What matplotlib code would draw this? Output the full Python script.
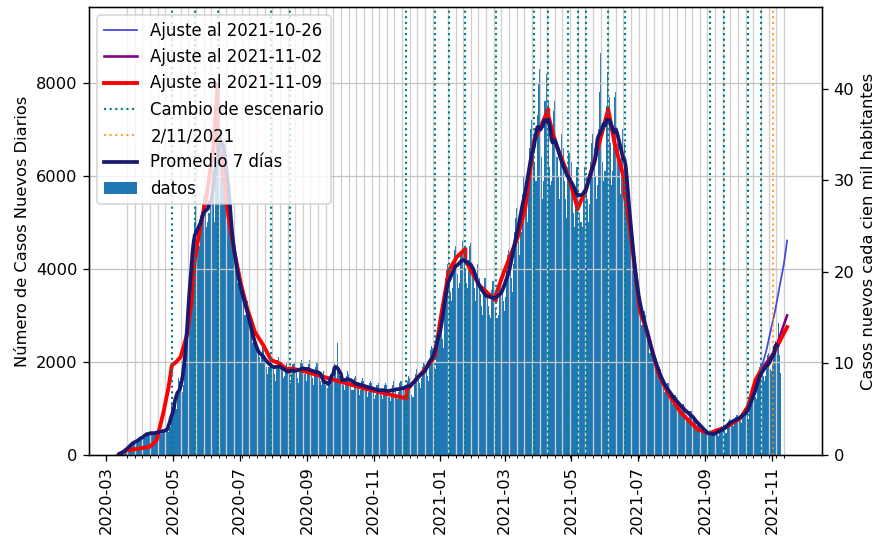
import numpy as np
import pandas as pd
import matplotlib
matplotlib.use("Agg")
from matplotlib import pyplot as plt

# casos nuevos diarios desde 2020-03-10 (una fila por semana, martes a lunes)
casos = [
    5, 10, 15, 25, 30, 45, 75,
    60, 90, 110, 130, 160, 190, 220,
    220, 250, 270, 300, 300, 290, 310,
    300, 330, 380, 420, 460, 380, 370,
    400, 480, 500, 560, 470, 430, 420,
    430, 480, 500, 520, 540, 480, 450,
    470, 520, 540, 560, 580, 540, 500,
    560, 600, 1140, 990, 1230, 1050, 980,
    1300, 1650, 1600, 1550, 1400, 1350, 1500,
    2000, 2700, 2900, 3100, 3500, 3600, 4200,
    4400, 4700, 5000, 5300, 4900, 4600, 4500,
    4800, 5000, 5400, 5600, 5500, 5200, 4900,
    5000, 5200, 5500, 5800, 6100, 5600, 5000,
    6000, 6500, 6900, 7000, 6700, 6940, 6600,
    6300, 6600, 6800, 6500, 6200, 5600, 5000,
    4900, 5000, 4700, 4400, 4200, 4000, 3700,
    3800, 3900, 3700, 3500, 3400, 3300, 3000,
    3200, 3300, 3100, 2900, 2800, 2600, 2400,
    2500, 2600, 2400, 2300, 2200, 2100, 2000,
    2100, 2300, 2250, 2150, 2050, 1900, 1750,
    1900, 2100, 2050, 2000, 1900, 1750, 1600,
    1850, 2050, 2100, 2000, 1900, 1800, 1650,
    1700, 1900, 2000, 1900, 1800, 1700, 1550,
    1750, 1950, 2000, 1950, 1800, 1650, 1550,
    1800, 2000, 2050, 2000, 1850, 1750, 1600,
    1750, 1950, 2050, 2000, 1850, 1650, 1500,
    1700, 1900, 2000, 1950, 1800, 1600, 1500,
    1600, 1800, 1700, 1500, 1400, 1450, 1500,
    1500, 1650, 1750, 1900, 1950, 1800, 1650,
    2400, 1800, 1700, 1750, 1650, 1500, 1400,
    1500, 1700, 1800, 1750, 1700, 1550, 1400,
    1400, 1650, 1700, 1650, 1550, 1450, 1300,
    1400, 1600, 1650, 1600, 1500, 1400, 1250,
    1350, 1550, 1600, 1550, 1450, 1350, 1200,
    1300, 1500, 1550, 1500, 1400, 1300, 1200,
    1300, 1500, 1550, 1500, 1380, 1250, 1150,
    1300, 1500, 1600, 1550, 1400, 1250, 1200,
    1350, 1550, 1600, 1550, 1450, 1300, 1250,
    1350, 1600, 1700, 1650, 1500, 1300, 1250,
    1500, 1750, 1850, 1800, 1700, 1550, 1450,
    1650, 1900, 2000, 1950, 1850, 1700, 1600,
    1950, 2250, 2350, 2300, 2100, 1900, 1850,
    2400, 2800, 2900, 2950, 2800, 2500, 2300,
    3300, 3800, 4000, 4100, 3900, 3500, 3300,
    3600, 4200, 4400, 4500, 4200, 3900, 3600,
    3700, 4300, 4600, 4650, 4400, 4000, 3700,
    3600, 4200, 4500, 4550, 4300, 3900, 3600,
    3300, 3900, 4100, 4000, 3800, 3450, 3200,
    3000, 3600, 3800, 3800, 3550, 3200, 3000,
    2950, 3550, 3750, 3750, 3500, 3150, 2950,
    3000, 3600, 3850, 3900, 3650, 3300, 3100,
    3400, 4000, 4300, 4400, 4200, 3800, 3500,
    4100, 4800, 5100, 5300, 5000, 4600, 4300,
    4800, 5600, 6000, 6100, 5900, 5400, 5000,
    5600, 6600, 7000, 7200, 6900, 6300, 5900,
    5900, 7300, 8000, 8300, 7600, 6400, 5500,
    5900, 7600, 8200, 9150, 7600, 6200, 5800,
    5900, 6900, 7400, 7600, 7200, 6400, 6000,
    5500, 6400, 6900, 7000, 6600, 5900, 5500,
    5100, 6000, 6500, 6600, 6300, 5600, 5200,
    4900, 5700, 6200, 6200, 5900, 5200, 5000,
    4900, 5700, 6200, 6300, 6000, 5500, 5000,
    5400, 6300, 6700, 6900, 6600, 6000, 5500,
    5800, 7000, 7800, 8650, 7200, 6300, 5900,
    6100, 7500, 8200, 8400, 7700, 6700, 5800,
    6100, 7100, 7700, 7800, 7400, 6700, 6200,
    5600, 6500, 7000, 7100, 6700, 6000, 5600,
    5500, 5600, 5300, 5000, 4600, 4200, 3900,
    3700, 3900, 3700, 3500, 3300, 3000, 2800,
    2800, 3100, 3000, 2850, 2650, 2400, 2200,
    2200, 2400, 2350, 2200, 2050, 1850, 1700,
    1700, 1900, 1850, 1750, 1600, 1450, 1350,
    1350, 1550, 1550, 1450, 1350, 1200, 1100,
    1150, 1300, 1300, 1250, 1150, 1000, 950,
    950, 1100, 1100, 1050, 950, 850, 800,
    800, 950, 950, 900, 820, 730, 680,
    620, 720, 740, 700, 630, 560, 520,
    470, 540, 550, 520, 460, 400, 380,
    400, 480, 520, 510, 470, 420, 400,
    500, 600, 620, 600, 560, 500, 480,
    620, 730, 780, 760, 720, 650, 620,
    700, 820, 870, 850, 790, 720, 690,
    800, 950, 1000, 980, 920, 830, 780,
    1050, 1250, 1350, 1400, 1350, 1250, 1200,
    1500, 1750, 1900, 1950, 1850, 1700, 1600,
    1700, 2000, 2150, 2200, 2050, 1850, 1800,
    1950, 2300, 2450, 2550, 2400, 2830, 2150,
    1760,
]

# ajuste por tramos al 2021-11-09
ajuste_fechas = [
    "2020-03-12", "2020-03-19", "2020-04-02", "2020-04-10", "2020-04-16",
    "2020-04-22", "2020-04-27", "2020-04-30", "2020-05-04", "2020-05-08",
    "2020-05-14", "2020-05-18", "2020-05-21", "2020-05-26", "2020-06-01",
    "2020-06-07", "2020-06-11", "2020-06-11", "2020-06-15", "2020-06-20",
    "2020-06-26", "2020-07-02", "2020-07-08", "2020-07-15", "2020-07-23",
    "2020-07-30", "2020-08-07", "2020-08-16", "2020-08-16", "2020-08-26",
    "2020-09-10", "2020-09-25", "2020-10-10", "2020-10-25", "2020-11-10",
    "2020-12-01", "2020-12-01", "2020-12-12", "2020-12-20", "2020-12-27",
    "2021-01-01", "2021-01-09", "2021-01-16", "2021-01-24", "2021-01-24",
    "2021-02-06", "2021-02-21", "2021-02-21", "2021-03-01", "2021-03-13",
    "2021-03-20", "2021-03-28", "2021-04-04", "2021-04-10", "2021-04-10",
    "2021-04-17", "2021-04-28", "2021-05-07", "2021-05-15", "2021-05-22",
    "2021-05-29", "2021-06-04", "2021-06-10", "2021-06-19", "2021-06-19",
    "2021-06-23", "2021-07-03", "2021-07-10", "2021-07-20", "2021-07-29",
    "2021-08-10", "2021-08-25", "2021-09-05", "2021-09-12", "2021-09-18",
    "2021-10-03", "2021-10-10", "2021-10-17", "2021-10-22", "2021-10-29",
    "2021-11-07", "2021-11-15",
]
ajuste_valores = [
    0, 100, 145, 180, 320,
    890, 1465, 1930, 2000, 2110,
    2600, 3300, 4200, 4900, 5600,
    6600, 7970, 6600, 6330, 5250,
    4400, 3700, 3150, 2650, 2350,
    2040, 1965, 1785, 1860, 1820,
    1720, 1620, 1520, 1420, 1330,
    1215, 1390, 1680, 1900, 2110,
    2890, 3970, 4250, 4430, 4180,
    3640, 3320, 3450, 3970, 4680,
    5320, 6750, 7100, 7430, 7300,
    6680, 6040, 5290, 5750, 6300,
    6900, 7430, 6680, 5900, 5600,
    5040, 3110, 2610, 1750, 1320,
    900, 550, 465, 536, 570,
    787, 1035, 1610, 1820, 1965,
    2390, 2750,
]

# ajustes anteriores, último tramo
ajuste_1026_fechas = ["2021-10-22", "2021-10-27", "2021-10-31", "2021-11-04",
                      "2021-11-08", "2021-11-12", "2021-11-15"]
ajuste_1026_valores = [1820, 2250, 2680, 3100, 3610, 4100, 4610]
ajuste_1102_fechas = ["2021-10-22", "2021-10-27", "2021-11-01", "2021-11-04",
                      "2021-11-09", "2021-11-15"]
ajuste_1102_valores = [1820, 1990, 2150, 2250, 2600, 3000]

cambios = [
    "2020-04-30", "2020-05-21", "2020-06-11", "2020-07-30", "2020-08-16",
    "2020-12-01", "2020-12-27", "2021-01-09", "2021-01-24", "2021-02-21",
    "2021-03-28", "2021-04-10", "2021-04-28", "2021-05-07", "2021-05-15",
    "2021-06-04", "2021-06-19", "2021-09-05", "2021-09-18", "2021-10-10",
    "2021-10-22",
]
fecha_ref = "2021-11-02"
poblacion = 19678363

fechas = pd.date_range("2020-03-10", periods=len(casos), freq="D")
serie = pd.Series(casos, index=fechas)
promedio = serie.rolling(7, center=True).mean()

fig = plt.figure(figsize=(7.4958, 4.5984), dpi=117)
ax = fig.add_axes([0.1015, 0.1543, 0.8358, 0.8327])

ax.plot(pd.to_datetime(ajuste_1026_fechas), ajuste_1026_valores,
        color="#4848dc", lw=1.1, label="Ajuste al 2021-10-26")
ax.plot(pd.to_datetime(ajuste_1102_fechas), ajuste_1102_valores,
        color="purple", lw=1.6, label="Ajuste al 2021-11-02")
ax.plot(pd.to_datetime(ajuste_fechas), ajuste_valores,
        color="red", lw=2.4, label="Ajuste al 2021-11-09")
for i, c in enumerate(cambios):
    ax.axvline(pd.Timestamp(c), color="teal", ls=":", lw=1.3,
               label="Cambio de escenario" if i == 0 else None)
ax.axvline(pd.Timestamp(fecha_ref), color="darkorange", ls=":", lw=1.3,
           alpha=0.8, label="2/11/2021")
ax.plot(promedio.index, promedio.values, color="midnightblue", lw=2.3,
        label="Promedio 7 días")
ax.bar(fechas, casos, width=1.0, color="#1f77b4", label="datos")

# grilla semanal en x, grilla normal en y
semanas = pd.date_range("2020-03-20", "2021-11-12", freq="7D")
ax.set_xticks(semanas, minor=True)
ax.grid(which="minor", axis="x", color="#cfcfcf", lw=0.8)
ax.grid(which="major", axis="y", color="#c4c4c4", lw=0.8)

ax.set_xlim(pd.Timestamp("2020-02-14"), pd.Timestamp("2021-12-17"))
ymax = 9630
ax.set_ylim(0, ymax)
ax.set_ylabel("Número de Casos Nuevos Diarios")
ax.tick_params(axis="x", labelrotation=90)
ax.legend(loc="upper left", fontsize=10.2, labelspacing=0.5)

ax2 = ax.twinx()
ax2.set_ylim(0, ymax / (poblacion / 1e5))
ax2.set_ylabel("Casos nuevos cada cien mil habitantes")

fig.savefig("out.png", dpi=117)
